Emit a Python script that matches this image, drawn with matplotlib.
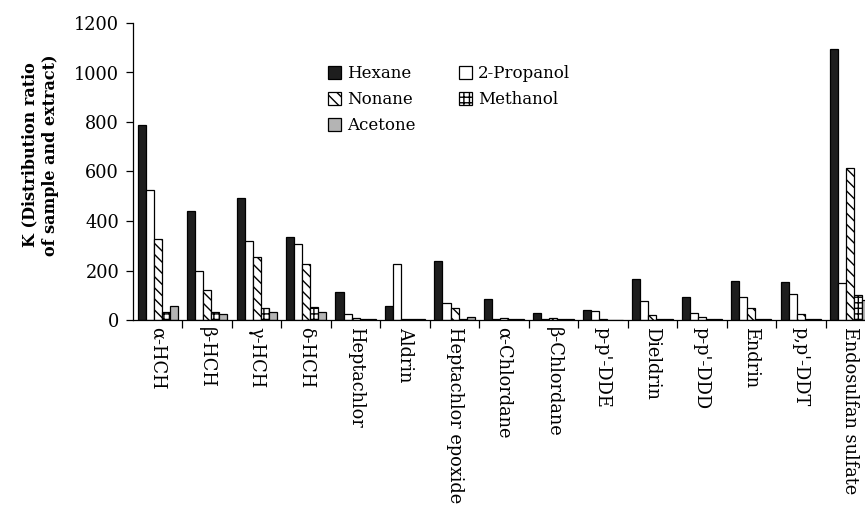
import matplotlib
matplotlib.use("Agg")
import matplotlib.pyplot as plt
import numpy as np
from matplotlib.patches import Patch

plt.rcParams['font.family'] = ['DejaVu Serif']
plt.rcParams['hatch.linewidth'] = 1.0

categories = ["α-HCH", "β-HCH", "γ-HCH", "δ-HCH", "Heptachlor", "Aldrin",
              "Heptachlor epoxide", "α-Chlordane", "β-Chlordane", "p-p'-DDE",
              "Dieldrin", "p-p'-DDD", "Endrin", "p,p'-DDT", "Endosulfan sulfate"]
hexane     = [786, 442, 494, 334, 113, 58, 240, 86, 30, 40, 167, 92, 159, 154, 1095]
propanol   = [527, 199, 319, 307, 23, 226, 69, 6, 3, 35, 75, 28, 92, 104, 149]
nonane     = [329, 121, 256, 226, 8, 4, 47, 10, 10, 5, 19, 13, 47, 24, 613]
methanol   = [34, 34, 47, 51, 4, 3, 6, 4, 3, 1, 5, 5, 5, 5, 103]
acetone    = [57, 23, 34, 34, 4, 4, 13, 5, 5, 1, 5, 5, 5, 5, 81]
series_names = ["Hexane", "2-Propanol", "Nonane", "Methanol", "Acetone"]
yticks = [0, 200, 400, 600, 800, 1000, 1200]

series = [hexane, propanol, nonane, methanol, acetone]
faces = ['#1e1e1e', 'white', 'white', 'white', '#b4b4b4']
hatches = [None, None, '\\\\\\', '+++', None]

fig = plt.figure(figsize=(8.65, 5.08), dpi=100)
ax = fig.add_axes([133/865, 1-320/508, 742/865, 297/508])

x = np.arange(len(categories))
w = 0.163
for i, (vals, fc, h, nm) in enumerate(zip(series, faces, hatches, series_names)):
    ax.bar(x + (i - 2) * w, vals, width=w, color=fc, edgecolor='black',
           linewidth=0.9, hatch=h, label=nm, zorder=2)

ax.set_xlim(-0.5, len(categories) - 0.5)
ax.set_ylim(0, 1200)
ax.set_yticks(yticks)
ax.tick_params(axis='y', direction='out', length=5, width=0.9, labelsize=12.8, pad=5)
ax.set_xticks(x)
ax.set_xticklabels(categories, rotation=270, ha='center', va='top', fontsize=12.8)
ax.tick_params(axis='x', which='major', length=0, pad=5)
ax.set_xticks(np.arange(0.5, len(categories) - 0.5, 1), minor=True)
ax.tick_params(axis='x', which='minor', length=6, width=0.9, direction='out')
for s in ['top', 'right']:
    ax.spines[s].set_visible(False)
for s in ['left', 'bottom']:
    ax.spines[s].set_linewidth(0.9)

fig.text(40/865, 1-155/508, "K (Distribution ratio\nof sample and extract)",
         rotation=90, ha='center', va='center', fontsize=11.5, fontweight='bold',
         multialignment='center', linespacing=1.25)

handles = [Patch(facecolor=fc, edgecolor='black', hatch=h, linewidth=0.9)
           for fc, h in zip(faces, hatches)]
order = [0, 2, 4, 1, 3]
fig.legend([handles[k] for k in order], [series_names[k] for k in order],
           loc='upper left', bbox_to_anchor=(313/865, 1-50/508), ncol=2,
           frameon=False, fontsize=12, handlelength=0.8, handleheight=0.8,
           handletextpad=0.35, columnspacing=2.6, labelspacing=0.55)

fig.savefig("out.png", dpi=100)
